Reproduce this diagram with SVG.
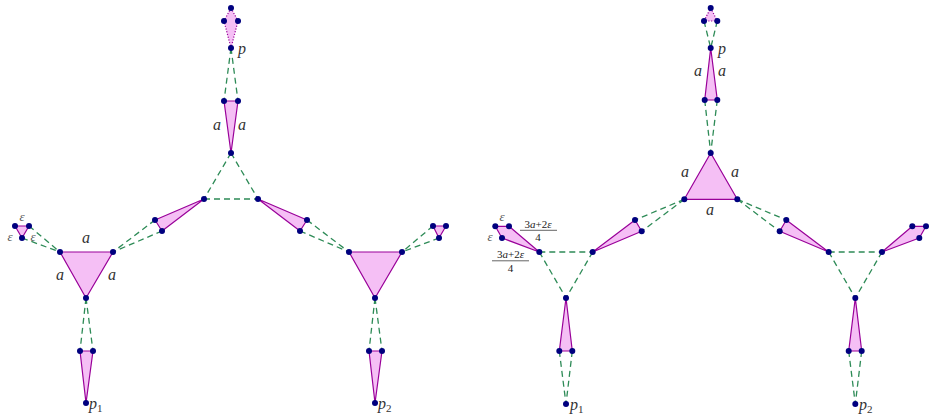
<svg xmlns="http://www.w3.org/2000/svg" width="933" height="417" viewBox="0 0 933 417">
<style>
.tri{fill:#f5bff5;stroke:#990099;stroke-width:1.2;stroke-linejoin:round}
.dot{fill:#f5bff5;stroke:#990099;stroke-width:1.2;stroke-dasharray:1.2 1.6}
.dash{stroke:#2e8b57;stroke-width:1.3;stroke-dasharray:6 4;fill:none}
.n{fill:#00007f}
.lbl{font-family:"Liberation Serif","DejaVu Serif",serif;font-style:italic;font-size:16px;fill:#333;text-anchor:middle}
.eps{font-family:"Liberation Serif","DejaVu Serif",serif;font-style:italic;font-size:13px;fill:#555;text-anchor:middle}
.fr{font-family:"Liberation Serif","DejaVu Serif",serif;font-size:11px;fill:#222;text-anchor:middle}
.fl{stroke:#222;stroke-width:0.7}
.sub{font-style:normal;font-size:11px}
</style>
<g id="connectors">
<line class="dash" x1="231" y1="48" x2="224" y2="101"/>
<line class="dash" x1="231" y1="48" x2="238" y2="101"/>
<line class="dash" x1="231" y1="153" x2="204" y2="199"/>
<line class="dash" x1="231" y1="153" x2="258" y2="199"/>
<line class="dash" x1="204" y1="199" x2="258" y2="199"/>
<line class="dash" x1="155" y1="220" x2="113" y2="252"/>
<line class="dash" x1="162" y1="231" x2="113" y2="252"/>
<line class="dash" x1="307" y1="220" x2="349" y2="252"/>
<line class="dash" x1="300" y1="231" x2="349" y2="252"/>
<line class="dash" x1="29" y1="226" x2="60" y2="252"/>
<line class="dash" x1="22" y1="238" x2="60" y2="252"/>
<line class="dash" x1="433" y1="226" x2="402" y2="252"/>
<line class="dash" x1="439" y1="238" x2="402" y2="252"/>
<line class="dash" x1="86" y1="298" x2="80" y2="351"/>
<line class="dash" x1="86" y1="298" x2="93" y2="351"/>
<line class="dash" x1="375" y1="298" x2="369" y2="351"/>
<line class="dash" x1="375" y1="298" x2="382" y2="351"/>
<line class="dash" x1="704" y1="21" x2="710.7" y2="48"/>
<line class="dash" x1="717.3" y1="21" x2="710.7" y2="48"/>
<line class="dash" x1="704.7" y1="100" x2="710.7" y2="153"/>
<line class="dash" x1="717.3" y1="100" x2="710.7" y2="153"/>
<line class="dash" x1="684.3" y1="199.3" x2="635" y2="220"/>
<line class="dash" x1="684.3" y1="199.3" x2="641.7" y2="231.3"/>
<line class="dash" x1="737.3" y1="199.3" x2="786.3" y2="220"/>
<line class="dash" x1="737.3" y1="199.3" x2="779.7" y2="231.3"/>
<line class="dash" x1="539.3" y1="252" x2="592.7" y2="252"/>
<line class="dash" x1="539.3" y1="252" x2="566" y2="298"/>
<line class="dash" x1="592.7" y1="252" x2="566" y2="298"/>
<line class="dash" x1="828.7" y1="252" x2="882" y2="252"/>
<line class="dash" x1="828.7" y1="252" x2="855.3" y2="298"/>
<line class="dash" x1="882" y1="252" x2="855.3" y2="298"/>
<line class="dash" x1="559.3" y1="351" x2="566" y2="404"/>
<line class="dash" x1="572.3" y1="351" x2="566" y2="404"/>
<line class="dash" x1="848.7" y1="351" x2="855.3" y2="404"/>
<line class="dash" x1="861.7" y1="351" x2="855.3" y2="404"/>
</g>
<g id="L-kite"><polygon class="dot" points="231,8 238,21 231,48 224,21"/></g>
<g id="L-top"><polygon class="tri" points="224,101 238,101 231,153"/></g>
<g id="L-midL"><polygon class="tri" points="204,199 155,220 162,231"/></g>
<g id="L-midR"><polygon class="tri" points="258,199 307,220 300,231"/></g>
<g id="L-bigL"><polygon class="tri" points="60,252 113,252 86,298"/></g>
<g id="L-bigR"><polygon class="tri" points="349,252 402,252 375,298"/></g>
<g id="L-smallL"><polygon class="tri" points="15,226 29,226 22,238"/></g>
<g id="L-smallR"><polygon class="tri" points="433,226 446,226 439,238"/></g>
<g id="L-p1"><polygon class="tri" points="80,351 93,351 86,403"/></g>
<g id="L-p2"><polygon class="tri" points="369,351 382,351 375,403"/></g>
<g id="R-tiny"><polygon class="dot" points="710.7,8 717.3,21 704,21"/></g>
<g id="R-top"><polygon class="tri" points="710.7,48 717.3,100 704.7,100"/></g>
<g id="R-big"><polygon class="tri" points="710.7,153 737.3,199.3 684.3,199.3"/></g>
<g id="R-midL"><polygon class="tri" points="635,220 641.7,231.3 592.7,252"/></g>
<g id="R-midR"><polygon class="tri" points="786.3,220 779.7,231.3 828.7,252"/></g>
<g id="R-quadL"><polygon class="tri" points="495.3,226.3 509,226.3 539.3,252 502,238"/></g>
<g id="R-quadR"><polygon class="tri" points="926,226.3 912.3,226.3 882,252 919.3,238"/></g>
<g id="R-p1"><polygon class="tri" points="566,298 572.3,351 559.3,351"/></g>
<g id="R-p2"><polygon class="tri" points="855.3,298 861.7,351 848.7,351"/></g>
<g id="nodes">
<circle class="n" cx="231" cy="8" r="3"/><circle class="n" cx="224" cy="21" r="3"/><circle class="n" cx="238" cy="21" r="3"/><circle class="n" cx="231" cy="48" r="3"/>
<circle class="n" cx="224" cy="101" r="3"/><circle class="n" cx="238" cy="101" r="3"/><circle class="n" cx="231" cy="153" r="3"/>
<circle class="n" cx="204" cy="199" r="3"/><circle class="n" cx="258" cy="199" r="3"/>
<circle class="n" cx="155" cy="220" r="3"/><circle class="n" cx="162" cy="231" r="3"/>
<circle class="n" cx="307" cy="220" r="3"/><circle class="n" cx="300" cy="231" r="3"/>
<circle class="n" cx="60" cy="252" r="3"/><circle class="n" cx="113" cy="252" r="3"/><circle class="n" cx="86" cy="298" r="3"/>
<circle class="n" cx="349" cy="252" r="3"/><circle class="n" cx="402" cy="252" r="3"/><circle class="n" cx="375" cy="298" r="3"/>
<circle class="n" cx="15" cy="226" r="3"/><circle class="n" cx="29" cy="226" r="3"/><circle class="n" cx="22" cy="238" r="3"/>
<circle class="n" cx="433" cy="226" r="3"/><circle class="n" cx="446" cy="226" r="3"/><circle class="n" cx="439" cy="238" r="3"/>
<circle class="n" cx="80" cy="351" r="3"/><circle class="n" cx="93" cy="351" r="3"/><circle class="n" cx="86" cy="403" r="3"/>
<circle class="n" cx="369" cy="351" r="3"/><circle class="n" cx="382" cy="351" r="3"/><circle class="n" cx="375" cy="403" r="3"/>
<circle class="n" cx="710.7" cy="8" r="3"/><circle class="n" cx="704" cy="21" r="3"/><circle class="n" cx="717.3" cy="21" r="3"/><circle class="n" cx="710.7" cy="48" r="3"/>
<circle class="n" cx="704.7" cy="100" r="3"/><circle class="n" cx="717.3" cy="100" r="3"/><circle class="n" cx="710.7" cy="153" r="3"/>
<circle class="n" cx="684.3" cy="199.3" r="3"/><circle class="n" cx="737.3" cy="199.3" r="3"/>
<circle class="n" cx="635" cy="220" r="3"/><circle class="n" cx="641.7" cy="231.3" r="3"/><circle class="n" cx="592.7" cy="252" r="3"/>
<circle class="n" cx="786.3" cy="220" r="3"/><circle class="n" cx="779.7" cy="231.3" r="3"/><circle class="n" cx="828.7" cy="252" r="3"/>
<circle class="n" cx="495.3" cy="226.3" r="3"/><circle class="n" cx="509" cy="226.3" r="3"/><circle class="n" cx="502" cy="238" r="3"/><circle class="n" cx="539.3" cy="252" r="3"/>
<circle class="n" cx="926" cy="226.3" r="3"/><circle class="n" cx="912.3" cy="226.3" r="3"/><circle class="n" cx="919.3" cy="238" r="3"/><circle class="n" cx="882" cy="252" r="3"/>
<circle class="n" cx="566" cy="298" r="3"/><circle class="n" cx="559.3" cy="351" r="3"/><circle class="n" cx="572.3" cy="351" r="3"/><circle class="n" cx="566" cy="404" r="3"/>
<circle class="n" cx="855.3" cy="298" r="3"/><circle class="n" cx="848.7" cy="351" r="3"/><circle class="n" cx="861.7" cy="351" r="3"/><circle class="n" cx="855.3" cy="404" r="3"/>
</g>
<g id="labels">
<text class="lbl" x="242" y="54">p</text>
<text class="lbl" x="217" y="130">a</text><text class="lbl" x="242" y="130">a</text>
<text class="lbl" x="86" y="243">a</text><text class="lbl" x="60" y="280">a</text><text class="lbl" x="112" y="280">a</text>
<text class="eps" x="22" y="221">ε</text><text class="eps" x="10" y="241">ε</text><text class="eps" x="33" y="241">ε</text>
<text class="lbl" x="89" y="409" style="text-anchor:start">p<tspan class="sub" dy="3">1</tspan></text>
<text class="lbl" x="378" y="409" style="text-anchor:start">p<tspan class="sub" dy="3">2</tspan></text>
<text class="lbl" x="722" y="54">p</text>
<text class="lbl" x="698" y="76">a</text><text class="lbl" x="722" y="76">a</text>
<text class="lbl" x="685" y="177">a</text><text class="lbl" x="735" y="177">a</text><text class="lbl" x="710" y="215">a</text>
<text class="eps" x="502" y="221">ε</text><text class="eps" x="490" y="241">ε</text>
<text class="fr" x="538" y="227.5">3<tspan font-style="italic">a</tspan>+2<tspan font-style="italic">ε</tspan></text>
<line class="fl" x1="520" y1="230.3" x2="557" y2="230.3"/>
<text class="fr" x="538" y="240.5">4</text>
<text class="fr" x="510.5" y="258">3<tspan font-style="italic">a</tspan>+2<tspan font-style="italic">ε</tspan></text>
<line class="fl" x1="492" y1="260.8" x2="529" y2="260.8"/>
<text class="fr" x="510.5" y="271.5">4</text>
<text class="lbl" x="570" y="410" style="text-anchor:start">p<tspan class="sub" dy="3">1</tspan></text>
<text class="lbl" x="859" y="410" style="text-anchor:start">p<tspan class="sub" dy="3">2</tspan></text>
</g>
</svg>
